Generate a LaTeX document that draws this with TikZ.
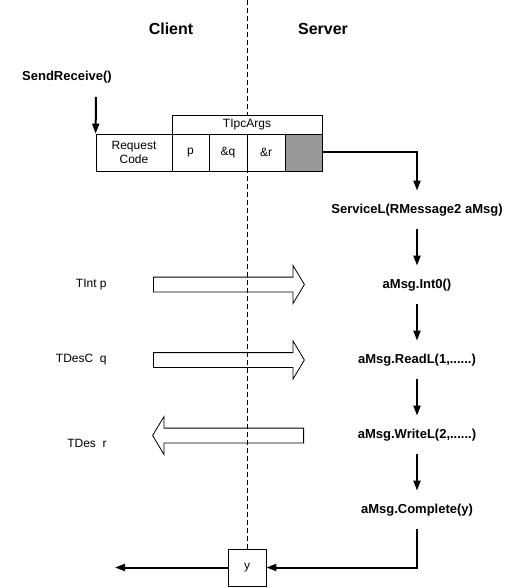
\documentclass[tikz,border=0pt]{standalone}
\usepackage{fontspec}
\setmainfont{Liberation Sans}
\usetikzlibrary{arrows.meta,shapes.arrows}
\definecolor{spacegray}{RGB}{153,153,153}

\begin{document}
\begin{tikzpicture}[x=1pt, y=-1pt, line width=0.8pt,
  headtext/.style={font=\bfseries\fontsize{16}{18}\selectfont},
  cell/.style={draw, fill=white, minimum height=37pt, inner sep=0pt, font=\fontsize{12}{14}\selectfont},
  callnode/.style={font=\bfseries\fontsize{13}{15}\selectfont, minimum height=38pt, inner sep=0pt},
  argtype/.style={anchor=east, inner sep=0pt, font=\fontsize{12}{14}\selectfont},
  flow/.style={line width=2pt, -{Triangle[length=10pt,width=7pt]}},
  passarrow/.style={draw, single arrow, single arrow head extend=11.5pt, single arrow tip angle=118,
    minimum width=37pt, minimum height=151pt, inner xsep=0pt, inner ysep=7pt, anchor=tail}]

\useasboundingbox (0,0) rectangle (518,588);

% Titres
\node[headtext] (client) at (171,29) {Client};
\node[headtext] (server) at (323,29) {Server};

% Retour vers le client
\node[cell, minimum width=38pt] (ybox) at (247,567.5) {y};
\coordinate (divtop) at (247,0);
\draw[dashed, dash pattern=on 5pt off 3pt, line width=0.8pt] (divtop) -- (ybox.north);

% Appel client
\node[callnode, minimum height=0pt] (send) at (67,77) {SendReceive()};
\coordinate (sendfoot) at (96,97);

% Message
\node[cell, minimum width=76pt, align=center] (req) at (134,152.5) {Request\\Code};
\node[cell, minimum width=150pt, minimum height=19pt] (args) at (247,124.5) {TIpcArgs};
\node[cell, minimum width=37pt] (p) at (190.5,152.5) {p};
\node[cell, minimum width=38pt] (q) at (228,152.5) {\&q};
\node[cell, minimum width=38pt] (r) at (266,152.5) {\&r};
\node[cell, minimum width=37pt, fill=spacegray] (spare) at (303.5,152.5) {};

\draw[flow] (sendfoot) -- (req.north west);

% Cote serveur
\node[callnode] (svc) at (417,210) {ServiceL(RMessage2 aMsg)};
\node[callnode] (int) at (417,285) {aMsg.Int0()};
\node[callnode] (read) at (417,360) {aMsg.ReadL(1,......)};
\node[callnode] (write) at (417,435) {aMsg.WriteL(2,......)};
\node[callnode] (done) at (417,510) {aMsg.Complete(y)};

\draw[flow] (spare.east) -| (svc.north);
\draw[flow] (svc) -- (int);
\draw[flow] (int) -- (read);
\draw[flow] (read) -- (write);
\draw[flow] (write) -- (done);

\coordinate (back) at (115,567.5);
\draw[flow] (done.south) |- (ybox.east);
\draw[flow] (ybox.west) -- (back);

% Arguments
\node[argtype] (tint) at (107,285) {TInt p};
\node[argtype] (tdesc) at (107,360) {TDesC\ \ q};
\node[argtype] (tdes) at (107,443) {TDes\ \ r};

\node[passarrow] (pin) at (153,284.5) {};
\node[passarrow] (qin) at (153,360) {};
\node[passarrow, shape border rotate=180] (rout) at (304,435.5) {};

\end{tikzpicture}
\end{document}
